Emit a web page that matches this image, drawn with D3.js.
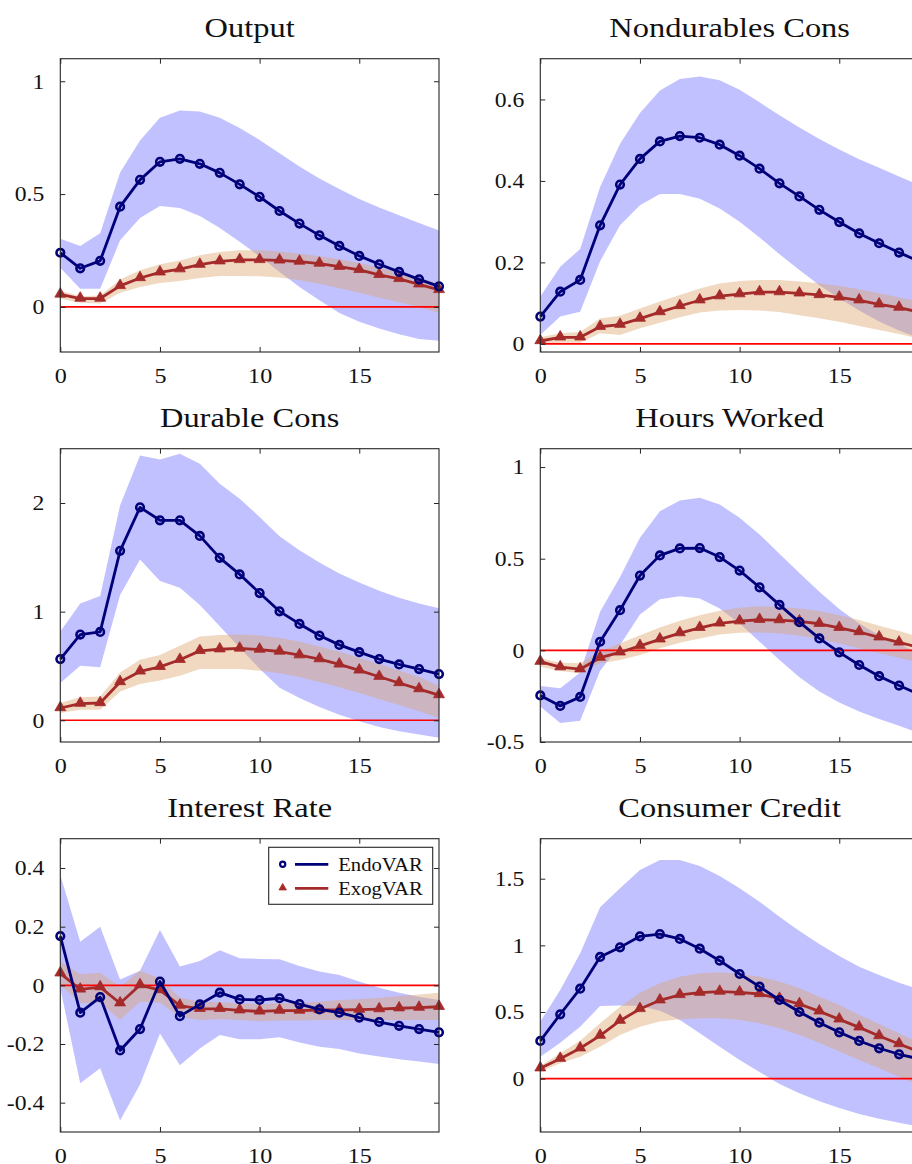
<!DOCTYPE html>
<html>
<head>
<meta charset="utf-8">
<script src="https://cdn.jsdelivr.net/npm/d3@7"></script>
<style>
  html, body { margin: 0; padding: 0; background: #fff; }
  svg { display: block; }
  text { font-family: "Liberation Serif", "Times New Roman", serif; fill: #111; }
</style>
</head>
<body>
<svg id="fig" width="912" height="1164"></svg>
<script>
// Horizons (quarters after the shock)
const horizons = [0,1,2,3,4,5,6,7,8,9,10,11,12,13,14,15,16,17,18,19];

// Output
const outEndo   = [0.240,0.171,0.204,0.444,0.563,0.643,0.656,0.634,0.594,0.543,0.488,0.425,0.369,0.317,0.270,0.226,0.189,0.155,0.122,0.091];
const outEndoHi = [0.302,0.270,0.326,0.596,0.737,0.838,0.870,0.866,0.838,0.793,0.740,0.681,0.622,0.569,0.522,0.478,0.440,0.406,0.372,0.339];
const outEndoLo = [0.173,0.080,0.080,0.295,0.394,0.447,0.438,0.403,0.350,0.289,0.224,0.155,0.088,0.029,-0.027,-0.066,-0.096,-0.121,-0.142,-0.150];
const outExog   = [0.055,0.037,0.037,0.093,0.128,0.153,0.167,0.187,0.202,0.208,0.208,0.206,0.201,0.192,0.178,0.164,0.142,0.124,0.100,0.075];
const outExogHi = [0.071,0.047,0.050,0.121,0.162,0.189,0.206,0.229,0.243,0.251,0.251,0.245,0.236,0.224,0.211,0.195,0.174,0.152,0.128,0.103];
const outExogLo = [0.037,0.018,0.015,0.063,0.088,0.106,0.115,0.128,0.137,0.137,0.136,0.130,0.118,0.102,0.083,0.063,0.041,0.021,-0.001,-0.027];

// Nondurables consumption
const ndEndo   = [0.067,0.128,0.157,0.291,0.391,0.454,0.497,0.510,0.506,0.489,0.462,0.430,0.394,0.362,0.329,0.299,0.271,0.247,0.224,0.203];
const ndEndoHi = [0.116,0.189,0.233,0.385,0.491,0.567,0.622,0.650,0.656,0.647,0.624,0.593,0.561,0.531,0.503,0.477,0.453,0.432,0.411,0.390];
const ndEndoLo = [0.022,0.067,0.079,0.203,0.291,0.340,0.368,0.368,0.356,0.332,0.300,0.261,0.220,0.181,0.144,0.112,0.082,0.055,0.033,0.014];
const ndExog   = [0.007,0.016,0.016,0.042,0.047,0.062,0.078,0.093,0.107,0.117,0.122,0.127,0.127,0.124,0.120,0.114,0.107,0.097,0.089,0.078];
const ndExogHi = [0.016,0.026,0.029,0.062,0.069,0.087,0.104,0.120,0.136,0.148,0.154,0.157,0.157,0.153,0.149,0.142,0.134,0.124,0.114,0.104];
const ndExogLo = [0.000,0.003,0.003,0.026,0.022,0.038,0.052,0.065,0.077,0.082,0.083,0.082,0.078,0.070,0.063,0.054,0.044,0.034,0.024,0.013];

// Durable consumption
const durEndo   = [0.563,0.789,0.813,1.560,1.960,1.841,1.841,1.697,1.495,1.343,1.171,1.003,0.887,0.780,0.694,0.627,0.563,0.514,0.471,0.425];
const durEndoHi = [0.817,1.076,1.144,1.979,2.437,2.401,2.453,2.361,2.177,2.040,1.872,1.694,1.566,1.453,1.352,1.269,1.193,1.128,1.076,1.031];
const durEndoLo = [0.343,0.502,0.489,1.153,1.480,1.281,1.220,1.061,0.865,0.670,0.474,0.300,0.205,0.122,0.052,-0.009,-0.061,-0.101,-0.131,-0.162];
const durExog   = [0.113,0.153,0.159,0.352,0.450,0.492,0.557,0.639,0.654,0.661,0.651,0.633,0.599,0.563,0.514,0.459,0.401,0.343,0.287,0.232];
const durExogHi = [0.159,0.211,0.220,0.440,0.557,0.602,0.685,0.771,0.786,0.789,0.780,0.758,0.725,0.679,0.630,0.575,0.517,0.459,0.398,0.318];
const durExogLo = [0.067,0.098,0.098,0.266,0.333,0.367,0.410,0.471,0.471,0.471,0.456,0.434,0.398,0.352,0.303,0.251,0.196,0.141,0.083,0.021];

// Hours worked
const hrsEndo   = [-0.246,-0.303,-0.254,0.047,0.219,0.408,0.518,0.556,0.558,0.509,0.435,0.344,0.248,0.154,0.065,-0.011,-0.080,-0.141,-0.192,-0.240];
const hrsEndoHi = [-0.194,-0.207,-0.121,0.210,0.400,0.614,0.759,0.817,0.832,0.795,0.723,0.632,0.527,0.422,0.319,0.225,0.147,0.083,0.033,-0.016];
const hrsEndoLo = [-0.306,-0.397,-0.384,-0.111,0.029,0.196,0.279,0.295,0.283,0.228,0.147,0.047,-0.053,-0.147,-0.225,-0.284,-0.333,-0.375,-0.411,-0.451];
const hrsExog   = [-0.062,-0.092,-0.103,-0.040,-0.011,0.024,0.060,0.094,0.123,0.147,0.159,0.167,0.165,0.158,0.145,0.123,0.100,0.071,0.043,0.016];
const hrsExogHi = [-0.043,-0.067,-0.071,-0.004,0.038,0.083,0.125,0.161,0.192,0.216,0.232,0.241,0.237,0.228,0.214,0.192,0.165,0.134,0.105,0.074];
const hrsExogLo = [-0.089,-0.112,-0.125,-0.071,-0.053,-0.025,0.011,0.042,0.065,0.087,0.096,0.098,0.092,0.080,0.062,0.038,0.011,-0.016,-0.040,-0.065];

// Interest rate
const irEndo   = [0.168,-0.093,-0.040,-0.222,-0.149,0.013,-0.105,-0.065,-0.025,-0.048,-0.050,-0.044,-0.064,-0.082,-0.093,-0.110,-0.125,-0.138,-0.149,-0.160];
const irEndoHi = [0.376,0.149,0.200,0.020,0.050,0.189,0.064,0.083,0.120,0.092,0.090,0.089,0.066,0.047,0.035,0.013,-0.008,-0.025,-0.039,-0.050];
const irEndoLo = [-0.010,-0.334,-0.283,-0.461,-0.338,-0.164,-0.272,-0.215,-0.169,-0.184,-0.184,-0.177,-0.195,-0.209,-0.217,-0.232,-0.243,-0.252,-0.260,-0.268];
const irExog   = [0.041,-0.014,-0.006,-0.061,0.001,-0.016,-0.069,-0.080,-0.080,-0.085,-0.089,-0.086,-0.086,-0.084,-0.084,-0.083,-0.081,-0.078,-0.076,-0.073];
const irExogHi = [0.081,0.038,0.043,-0.005,0.050,0.024,-0.042,-0.056,-0.058,-0.061,-0.064,-0.061,-0.059,-0.056,-0.050,-0.047,-0.042,-0.036,-0.031,-0.025];
const irExogLo = [0.001,-0.061,-0.059,-0.118,-0.056,-0.059,-0.107,-0.118,-0.116,-0.118,-0.122,-0.120,-0.120,-0.118,-0.118,-0.118,-0.118,-0.118,-0.118,-0.118];

// Consumer credit
const ccEndo   = [0.283,0.483,0.675,0.913,0.985,1.068,1.085,1.048,0.975,0.885,0.785,0.690,0.590,0.500,0.420,0.348,0.283,0.228,0.183,0.148];
const ccEndoHi = [0.428,0.665,0.940,1.285,1.428,1.565,1.640,1.640,1.595,1.520,1.428,1.328,1.215,1.108,1.010,0.920,0.840,0.778,0.720,0.670];
const ccEndoLo = [0.165,0.270,0.390,0.545,0.548,0.545,0.510,0.440,0.340,0.240,0.140,0.050,-0.040,-0.110,-0.170,-0.220,-0.265,-0.300,-0.330,-0.360];
const ccExog   = [0.078,0.150,0.228,0.323,0.435,0.523,0.588,0.628,0.645,0.653,0.648,0.635,0.600,0.560,0.505,0.445,0.385,0.320,0.260,0.203];
const ccExogHi = [0.095,0.190,0.285,0.415,0.540,0.645,0.715,0.765,0.790,0.798,0.785,0.765,0.728,0.678,0.615,0.553,0.478,0.410,0.340,0.270];
const ccExogLo = [0.053,0.115,0.165,0.240,0.328,0.390,0.428,0.445,0.453,0.453,0.440,0.415,0.378,0.328,0.270,0.203,0.140,0.078,0.015,-0.048];

// Panel titles, axis limits and tick labels
const titles = ["Output", "Nondurables Cons", "Durable Cons", "Hours Worked", "Interest Rate", "Consumer Credit"];
const yLimits = [[-0.2, 1.1], [-0.02, 0.7], [-0.2, 2.5], [-0.5, 1.1], [-0.5, 0.5], [-0.4, 1.8]];
const yTicks = [[0, 0.5, 1], [0, 0.2, 0.4, 0.6], [0, 1, 2], [-0.5, 0, 0.5, 1], [-0.4, -0.2, 0, 0.2, 0.4], [0, 0.5, 1, 1.5]];
const xTicks = [0, 5, 10, 15];
const seriesNames = ["EndoVAR", "ExogVAR"];

const panels = [
  {endo: outEndo, endoLo: outEndoLo, endoHi: outEndoHi, exog: outExog, exogLo: outExogLo, exogHi: outExogHi},
  {endo: ndEndo,  endoLo: ndEndoLo,  endoHi: ndEndoHi,  exog: ndExog,  exogLo: ndExogLo,  exogHi: ndExogHi},
  {endo: durEndo, endoLo: durEndoLo, endoHi: durEndoHi, exog: durExog, exogLo: durExogLo, exogHi: durExogHi},
  {endo: hrsEndo, endoLo: hrsEndoLo, endoHi: hrsEndoHi, exog: hrsExog, exogLo: hrsExogLo, exogHi: hrsExogHi},
  {endo: irEndo,  endoLo: irEndoLo,  endoHi: irEndoHi,  exog: irExog,  exogLo: irExogLo,  exogHi: irExogHi},
  {endo: ccEndo,  endoLo: ccEndoLo,  endoHi: ccEndoHi,  exog: ccExog,  exogLo: ccExogLo,  exogHi: ccExogHi}
];

// Layout
const colLeft = [60.3, 540.3];
const rowTop = [58.7, 448.7, 838.7];
const W = 378.7, H = 293.3;
const TICK = 5;

const C = {
  axis: "#262626",
  endo: "#00007a",
  exog: "#a52a2a",
  endoBand: "rgba(0,0,255,0.245)",
  exogBand: "rgba(220,165,105,0.42)",
  zero: "#ff0000"
};

const svg = d3.select("#fig");

// Widen serif glyphs a little so the text reads like a TeX roman face
function widen(sel, k) {
  sel.each(function () {
    const len = this.getComputedTextLength();
    this.setAttribute("textLength", (len * k).toFixed(2));
    this.setAttribute("lengthAdjust", "spacingAndGlyphs");
  });
}

const fmt = v => (v < 0 ? "-" : "") + String(Math.abs(v));

panels.forEach((p, i) => {
  const col = i % 2, row = Math.floor(i / 2);
  const g = svg.append("g").attr("transform", `translate(${colLeft[col]},${rowTop[row]})`);

  const x = d3.scaleLinear().domain([0, 19]).range([0, W]);
  const y = d3.scaleLinear().domain(yLimits[i]).range([H, 0]);

  // Confidence bands
  const band = (lo, hi) => d3.area()
    .x((d, j) => x(horizons[j]))
    .y0((d, j) => y(lo[j]))
    .y1((d, j) => y(hi[j]))(horizons);

  g.append("path").attr("d", band(p.endoLo, p.endoHi)).attr("fill", C.endoBand);
  g.append("path").attr("d", band(p.exogLo, p.exogHi)).attr("fill", C.exogBand);

  // Zero reference line
  g.append("line")
    .attr("x1", x(0)).attr("x2", x(19))
    .attr("y1", y(0)).attr("y2", y(0))
    .attr("stroke", C.zero).attr("stroke-width", 1.6);

  const line = vals => d3.line()
    .x((d, j) => x(horizons[j]))
    .y((d, j) => y(vals[j]))(horizons);

  // ExogVAR response
  g.append("path").attr("d", line(p.exog))
    .attr("fill", "none").attr("stroke", C.exog).attr("stroke-width", 2.8)
    .attr("stroke-linejoin", "round");
  g.append("g").selectAll("path").data(p.exog).join("path")
    .attr("d", d3.symbol(d3.symbolTriangle, 52)())
    .attr("transform", (d, j) => `translate(${x(horizons[j])},${y(d) - 0.5})`)
    .attr("fill", C.exog).attr("stroke", C.exog).attr("stroke-width", 0.8);

  // EndoVAR response
  g.append("path").attr("d", line(p.endo))
    .attr("fill", "none").attr("stroke", C.endo).attr("stroke-width", 2.8)
    .attr("stroke-linejoin", "round");
  g.append("g").selectAll("circle").data(p.endo).join("circle")
    .attr("cx", (d, j) => x(horizons[j]))
    .attr("cy", d => y(d))
    .attr("r", 3.8)
    .attr("fill", "none").attr("stroke", C.endo).attr("stroke-width", 2.6);

  // Axes: ticks point inward on every side of the box
  const styleAxis = a => {
    a.select(".domain").remove();
    a.selectAll(".tick line").attr("stroke", C.axis).attr("stroke-width", 1);
    a.selectAll("text").attr("fill", "#111").attr("font-size", 21.5)
      .attr("font-family", "Liberation Serif, serif");
  };

  const ax = g.append("g").attr("transform", `translate(0,${H})`)
    .call(d3.axisBottom(x).tickValues(xTicks).tickFormat(d3.format("d")).tickSize(-TICK).tickPadding(16));
  styleAxis(ax);
  widen(ax.selectAll("text"), 1.12);

  const axT = g.append("g")
    .call(d3.axisTop(x).tickValues(xTicks).tickFormat("").tickSize(-TICK));
  styleAxis(axT);

  const ay = g.append("g")
    .call(d3.axisLeft(y).tickValues(yTicks[i]).tickFormat(fmt).tickSize(-TICK).tickPadding(16));
  styleAxis(ay);
  widen(ay.selectAll("text"), 1.1);

  const ayR = g.append("g").attr("transform", `translate(${W},0)`)
    .call(d3.axisRight(y).tickValues(yTicks[i]).tickFormat("").tickSize(-TICK));
  styleAxis(ayR);

  // Box
  g.append("rect").attr("x", 0).attr("y", 0).attr("width", W).attr("height", H)
    .attr("fill", "none").attr("stroke", C.axis).attr("stroke-width", 1.1);

  // Title
  const t = g.append("text")
    .attr("x", W / 2).attr("y", -22)
    .attr("text-anchor", "middle")
    .attr("font-size", 27.5)
    .text(titles[i]);
  widen(t, 1.18);

  // Legend in the interest-rate panel
  if (i === 4) {
    const lg = g.append("g").attr("transform", `translate(${268.7 - colLeft[0]},${847.3 - rowTop[2]})`);
    lg.append("rect").attr("width", 164).attr("height", 57)
      .attr("fill", "#fff").attr("stroke", C.axis).attr("stroke-width", 1.1);
    const entries = [
      {name: seriesNames[0], color: C.endo, mark: "circle"},
      {name: seriesNames[1], color: C.exog, mark: "tri"}
    ];
    entries.forEach((e, k) => {
      const cy = 17 + k * 24;
      if (e.mark === "circle") {
        lg.append("circle").attr("cx", 14).attr("cy", cy).attr("r", 2.6)
          .attr("fill", "none").attr("stroke", e.color).attr("stroke-width", 2.2);
      } else {
        lg.append("path").attr("d", d3.symbol(d3.symbolTriangle, 24)())
          .attr("transform", `translate(14,${cy - 0.5})`)
          .attr("fill", e.color).attr("stroke", e.color).attr("stroke-width", 0.8);
      }
      lg.append("line").attr("x1", 26.3).attr("x2", 59.6).attr("y1", cy).attr("y2", cy)
        .attr("stroke", e.color).attr("stroke-width", 2.8);
      const lt = lg.append("text").attr("x", 69.5).attr("y", cy + 7)
        .attr("font-size", 19.5).text(e.name);
      widen(lt, 1.06);
    });
  }
});
</script>
</body>
</html>
